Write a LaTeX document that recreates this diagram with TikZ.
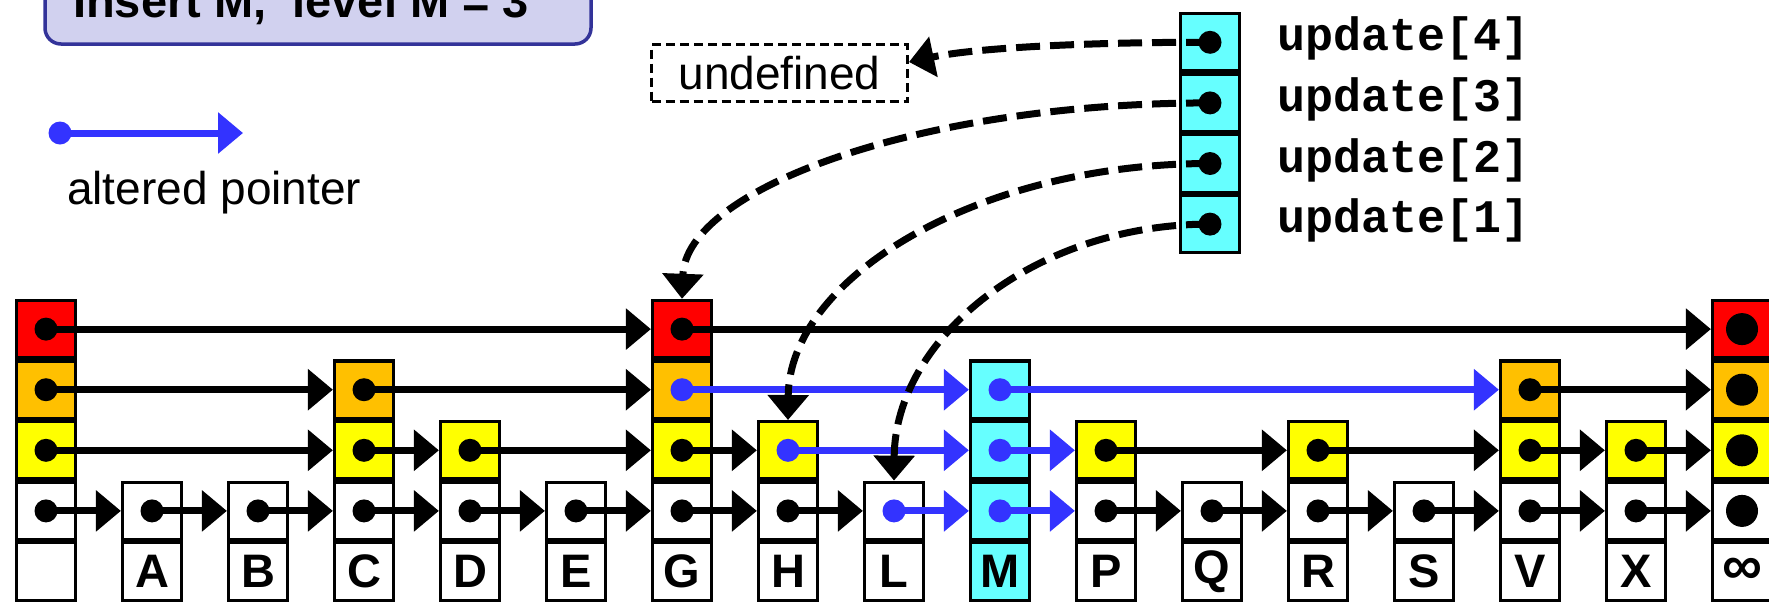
\documentclass[tikz,border=0pt]{standalone}
\usepackage{fontspec}
\setmainfont{Liberation Sans}
\newfontfamily\monofam{Liberation Mono}
\usetikzlibrary{arrows.meta}
\definecolor{lv0}{HTML}{FFFFFF}
\definecolor{lv1}{HTML}{FFFFFF}
\definecolor{lv2}{HTML}{FFFF00}
\definecolor{lv3}{HTML}{FFC000}
\definecolor{lv4}{HTML}{FF0000}
\definecolor{mc0}{HTML}{66FFFF}
\definecolor{mc1}{HTML}{66FFFF}
\definecolor{mc2}{HTML}{66FFFF}
\definecolor{mc3}{HTML}{66FFFF}
\definecolor{mc4}{HTML}{66FFFF}
\definecolor{ptrblue}{HTML}{3333FF}
\definecolor{titlefill}{HTML}{D1D1EF}
\definecolor{titleline}{HTML}{333399}
\tikzset{
  cell/.style={draw=black, line width=3.2pt, minimum width=59pt, minimum height=57.4pt, inner sep=0pt},
  labfont/.style={font=\bfseries\fontsize{47}{50}\selectfont},
  ptr/.style={draw=black, line width=7pt, -{Triangle[length=25pt,width=40pt]}},
  bptr/.style={draw=ptrblue, line width=7pt, -{Triangle[length=25pt,width=40pt]}},
  dptr/.style={draw=black, line width=7pt, dash pattern=on 24pt off 10pt, -{Triangle[length=25pt,width=40pt]}},
  dotblack/.style={fill=black},
  dotblue/.style={fill=ptrblue},
  updlabel/.style={anchor=base west, inner sep=0pt, font=\monofam\bfseries\fontsize{46.7}{50}\selectfont},
  plain/.style={inner sep=0pt, font=\fontsize{46}{50}\selectfont}
}
\begin{document}
\begin{tikzpicture}[x=1pt, y=-1pt]
\useasboundingbox (0,0) rectangle (1769,603);
% title box
\draw[fill=titlefill, draw=titleline, line width=3.5pt, rounded corners=16pt] (45,-40) rectangle (591,44);
\node[anchor=base west, inner sep=0pt, font=\bfseries\fontsize{47}{50}\selectfont] (title) at (73,17) {Insert M,\ \ level M = 3};
% legend
\coordinate (legA) at (60,133);
\coordinate (legB) at (243,133);
\draw[bptr] (legA) -- (legB);
\fill[ptrblue] (legA) circle (11.5);
\node[plain, anchor=base west] (legtext) at (67,204) {altered pointer};
% undefined box
\node[plain, draw=black, line width=3pt, dash pattern=on 9pt off 5pt, minimum width=256pt, minimum height=57pt] (undef) at (779.5,73) {undefined};
% nodes of the skip list
\foreach \nm/\i/\lv/\pre/\lab in {hd/0/4/lv/{}, A/1/1/lv/A, B/2/1/lv/B, C/3/3/lv/C, D/4/2/lv/D, E/5/1/lv/E, G/6/4/lv/G, H/7/2/lv/H, L/8/1/lv/L, M/9/3/mc/M, P/10/2/lv/P, Q/11/1/lv/Q, R/12/2/lv/R, S/13/1/lv/S, V/14/3/lv/V, X/15/2/lv/X, inf/16/4/lv/{}} {
  \node[cell, labfont, fill=\pre0] (\nm-0) at ({46+106*\i}, 571.5) {\lab};
  \foreach \k in {1,...,\lv} {
    \node[cell, fill=\pre\k] (\nm-\k) at ({46+106*\i}, {571.5-60.6*\k}) {};
  }
}
\node[font=\bfseries\fontsize{56}{56}\selectfont, inner sep=0pt] (infsym) at (inf-0) {∞};
% update array
\foreach \k/\yy in {4/42.3, 3/102.9, 2/163.5, 1/224.1} {
  \node[cell, fill=mc1] (u\k) at (1210,\yy) {};
  \node[updlabel] (ul\k) at (1277,{\yy+8.5}) {update[\k]};
}
% level 1 pointers
\foreach \s/\t in {hd/A, A/B, B/C, C/D, D/E, E/G, G/H, H/L, P/Q, Q/R, R/S, S/V, V/X, X/inf}
  \draw[ptr] (\s-1.center) -- (\t-1.west);
\foreach \s/\t in {L/M, M/P}
  \draw[bptr] (\s-1.center) -- (\t-1.west);
% level 2 pointers
\foreach \s/\t in {hd/C, C/D, D/G, G/H, P/R, R/V, V/X, X/inf}
  \draw[ptr] (\s-2.center) -- (\t-2.west);
\foreach \s/\t in {H/M, M/P}
  \draw[bptr] (\s-2.center) -- (\t-2.west);
% level 3 pointers
\foreach \s/\t in {hd/C, C/G, V/inf}
  \draw[ptr] (\s-3.center) -- (\t-3.west);
\foreach \s/\t in {G/M, M/V}
  \draw[bptr] (\s-3.center) -- (\t-3.west);
% level 4 pointers
\foreach \s/\t in {hd/G, G/inf}
  \draw[ptr] (\s-4.center) -- (\t-4.west);
% dots
\foreach \c in {hd-1, hd-2, hd-3, hd-4, A-1, B-1, C-1, C-2, C-3, D-1, D-2, E-1, G-1, G-2, G-4, H-1, P-1, P-2, Q-1, R-1, R-2, S-1, V-1, V-2, V-3, X-1, X-2, u1, u2, u3, u4}
  \fill[dotblack] (\c) circle (11.5);
\foreach \c in {G-3, H-2, L-1, M-1, M-2, M-3}
  \fill[dotblue] (\c) circle (11.5);
\foreach \c in {inf-1, inf-2, inf-3, inf-4}
  \fill[dotblack] (\c) circle (16);
% update pointers
\draw[dptr] (u4.center) .. controls (1100,42) and (980,47) .. ([yshift=11pt]undef.east);
\draw[dptr] (u3.center) .. controls (919,102.9) and (686,189) .. (G-4.north);
\draw[dptr] (u2.center) .. controls (977,163.5) and (789,278) .. (H-2.north);
\draw[dptr] (u1.center) .. controls (1035,224.1) and (895,338) .. (L-1.north);
\end{tikzpicture}
\end{document}
